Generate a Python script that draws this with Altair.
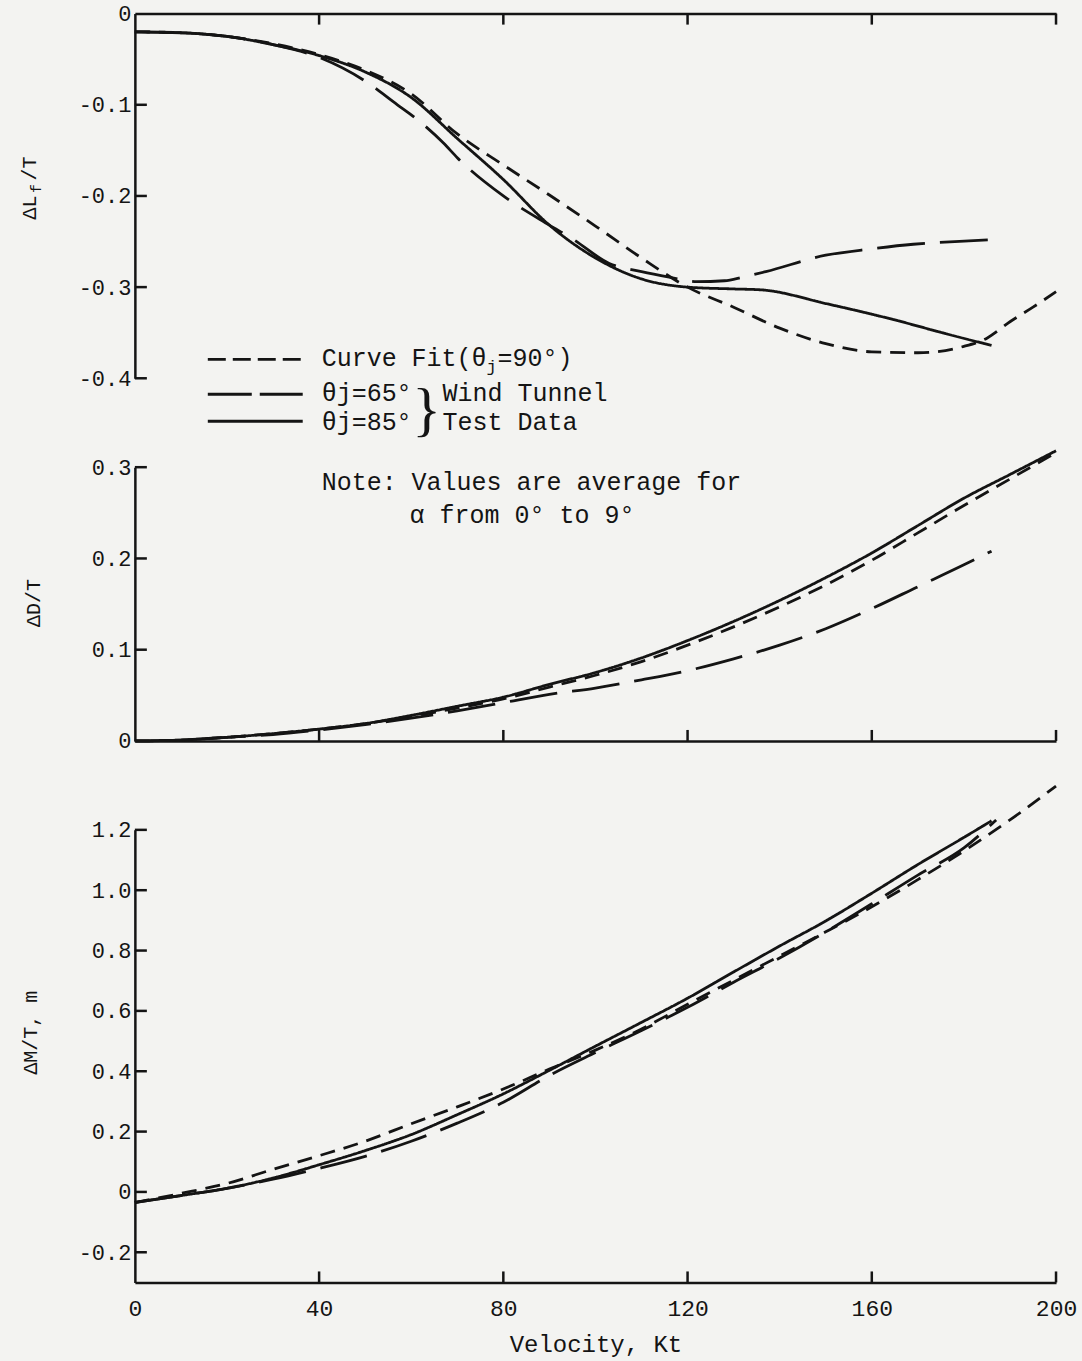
import altair as alt
import pandas as pd

INK = "#141414"
MONO = "Liberation Mono"
BG = "#f3f3f1"

SERIES = ["Curve Fit(θj=90°)", "θj=65°", "θj=85°"]
DASHES = [[15, 9], [48, 15], [1, 0]]

X_TICKS = [40, 80, 120, 160, 200]
X_LABELS = [0, 40, 80, 120, 160, 200]

# ---- Panel 1: ΔLf/T ----
LIFT_FIT_V = [0, 10, 20, 30, 40, 50, 60, 70, 80, 90, 100, 110, 120, 130, 140, 150, 160, 170, 180, 185, 190, 195, 200]
LIFT_FIT = [-0.020, -0.021, -0.025, -0.033, -0.045, -0.062, -0.088, -0.132, -0.166, -0.199, -0.233, -0.268,
            -0.300, -0.322, -0.345, -0.362, -0.371, -0.372, -0.365, -0.356, -0.338, -0.322, -0.305]
LIFT_65_V = [0, 10, 20, 30, 40, 50, 57, 60, 67, 70, 80, 90, 95, 103, 110, 116, 122, 128, 132, 137, 150, 160, 169, 178, 186]
LIFT_65 = [-0.020, -0.021, -0.025, -0.034, -0.048, -0.074, -0.100, -0.111, -0.142, -0.158, -0.200, -0.232, -0.247,
           -0.274, -0.283, -0.289, -0.294, -0.293, -0.289, -0.283, -0.265, -0.258, -0.253, -0.250, -0.248]
LIFT_85_V = [0, 10, 20, 30, 40, 50, 60, 70, 80, 90, 100, 110, 120, 130, 136, 150, 165, 176, 186]
LIFT_85 = [-0.020, -0.021, -0.025, -0.034, -0.046, -0.064, -0.092, -0.137, -0.182, -0.232, -0.268, -0.291,
           -0.300, -0.302, -0.303, -0.318, -0.336, -0.351, -0.364]
LIFT_Y_TICKS = [0, -0.1, -0.2, -0.3, -0.4]

# ---- Panel 2: ΔD/T ----
DRAG_FIT_V = [0, 10, 20, 30, 40, 50, 60, 70, 80, 90, 100, 110, 120, 130, 140, 150, 160, 170, 180, 190, 200]
DRAG_FIT = [0.000, 0.001, 0.004, 0.008, 0.013, 0.019, 0.027, 0.036, 0.046, 0.059, 0.072, 0.087, 0.105, 0.125,
            0.147, 0.171, 0.198, 0.228, 0.258, 0.287, 0.316]
DRAG_85_V = [0, 10, 20, 30, 40, 50, 60, 70, 80, 90, 100, 110, 120, 130, 140, 150, 160, 170, 180, 190, 200]
DRAG_85 = [0.000, 0.001, 0.004, 0.008, 0.013, 0.019, 0.028, 0.038, 0.048, 0.062, 0.075, 0.091, 0.110, 0.131,
           0.154, 0.179, 0.206, 0.236, 0.266, 0.292, 0.318]
DRAG_65_V = [0, 10, 20, 30, 40, 50, 60, 70, 80, 90, 100, 110, 120, 130, 140, 150, 160, 170, 180, 186]
DRAG_65 = [0.000, 0.001, 0.004, 0.007, 0.012, 0.018, 0.025, 0.033, 0.042, 0.051, 0.058, 0.067, 0.077, 0.090,
           0.105, 0.123, 0.145, 0.169, 0.193, 0.208]
DRAG_Y_TICKS = [0, 0.1, 0.2, 0.3]

# ---- Panel 3: ΔM/T ----
MOM_FIT_V = [0, 10, 20, 30, 40, 50, 60, 70, 80, 90, 100, 110, 120, 130, 140, 150, 160, 170, 180, 190, 200]
MOM_FIT = [-0.035, -0.005, 0.028, 0.075, 0.120, 0.168, 0.226, 0.282, 0.341, 0.407, 0.470, 0.540, 0.622, 0.702,
           0.782, 0.862, 0.945, 1.035, 1.130, 1.233, 1.345]
MOM_85_V = [0, 10, 20, 30, 40, 50, 60, 70, 80, 90, 100, 110, 120, 130, 140, 150, 160, 170, 180, 186]
MOM_85 = [-0.035, -0.012, 0.012, 0.046, 0.090, 0.137, 0.190, 0.256, 0.325, 0.403, 0.483, 0.562, 0.642, 0.729,
          0.815, 0.898, 0.990, 1.085, 1.175, 1.230]
MOM_65_V = [0, 10, 20, 30, 40, 50, 60, 70, 80, 90, 100, 110, 120, 130, 140, 150, 160, 170, 180, 187]
MOM_65 = [-0.035, -0.012, 0.012, 0.042, 0.078, 0.118, 0.168, 0.228, 0.297, 0.386, 0.462, 0.535, 0.612, 0.695,
          0.775, 0.862, 0.955, 1.050, 1.140, 1.233]
MOM_Y_TICKS = [-0.2, 0, 0.2, 0.4, 0.6, 0.8, 1.0, 1.2]

# ---- Text ----
Y_TITLE_1 = ["ΔL", "f", "/T"]
Y_TITLE_2 = "ΔD/T"
Y_TITLE_3 = "ΔM/T, m"
X_TITLE = "Velocity, Kt"
LEGEND_ROW1 = ["Curve Fit(θ", "j", "=90°)"]
LEGEND_ROW2 = ["θj=65°", "Wind Tunnel"]
LEGEND_ROW3 = ["θj=85°", "Test Data"]
NOTE = ["Note: Values are average for", "α from 0° to 9°"]

W = 922
H1, H2, H3 = 365, 274, 453

XSCALE = alt.Scale(domain=[0, 200], nice=False, zero=False)
LABEL_EXPR = ("datum.value == 0 ? '0' : (datum.value < 0 ? '-' + format(-datum.value, '.1f') "
              ": format(datum.value, '.1f'))")


def frame(pairs):
    rows = []
    for name, xs, ys in pairs:
        for x, y in zip(xs, ys):
            rows.append({"v": x, "val": y, "series": name})
    return pd.DataFrame(rows)


def text(t, x, y, size=25, align="left", baseline="alphabetic", angle=0, font=MONO):
    return alt.Chart(pd.DataFrame({"t": [t]})).mark_text(
        align=align, baseline=baseline, fontSize=size, font=font, angle=angle, color=INK
    ).encode(x=alt.value(x), y=alt.value(y), text="t:N")


def lines(df, yscale, xaxis, yaxis):
    return alt.Chart(df).mark_line(strokeWidth=2.8, color=INK, interpolate="monotone", strokeCap="butt").encode(
        x=alt.X("v:Q", scale=XSCALE, axis=xaxis),
        y=alt.Y("val:Q", scale=yscale, axis=yaxis),
        strokeDash=alt.StrokeDash("series:N", scale=alt.Scale(domain=SERIES, range=DASHES), legend=None),
        detail="series:N",
    )


def xticks(xaxis, top, height):
    y0, y1 = (0, 11) if top else (height, height - 11)
    return alt.Chart(pd.DataFrame({"v": X_TICKS})).mark_rule(color=INK, strokeWidth=2.5).encode(
        x=alt.X("v:Q", scale=XSCALE, axis=xaxis), y=alt.value(y0), y2=alt.value(y1)
    )


def yticks(vals, yscale, yax):
    return alt.Chart(pd.DataFrame({"val": vals})).mark_rule(color=INK, strokeWidth=2.5).encode(
        y=alt.Y("val:Q", scale=yscale, axis=yax), x=alt.value(0), x2=alt.value(12)
    )


def yaxis(vals):
    return alt.Axis(values=vals, labelExpr=LABEL_EXPR, title=None, labelFontSize=22, labelPadding=4,
                    labelFlush=False, labelOverlap=False, ticks=False, domain=True)


# Panel 1
ys1 = alt.Scale(domain=[-0.4, 0], nice=False, zero=False)
xa1 = alt.Axis(orient="top", labels=False, ticks=False, title=None, domain=True)
ya1 = yaxis(LIFT_Y_TICKS)
df1 = frame([(SERIES[0], LIFT_FIT_V, LIFT_FIT), (SERIES[1], LIFT_65_V, LIFT_65), (SERIES[2], LIFT_85_V, LIFT_85)])
p1_layers = [
    lines(df1, ys1, xa1, ya1),
    xticks(xa1, True, H1),
    yticks([-0.1, -0.2, -0.3, -0.4], ys1, ya1),
    text(Y_TITLE_1[0], -105, 194, size=20, align="center", baseline="middle", angle=270),
    text(Y_TITLE_1[1], -99, 175, size=15, align="center", baseline="middle", angle=270),
    text(Y_TITLE_1[2], -105, 155, size=20, align="center", baseline="middle", angle=270),
    # legend
    alt.Chart(pd.DataFrame({"a": [0]})).mark_rule(color=INK, strokeWidth=2.8, strokeDash=[18, 7], strokeCap="butt").encode(
        x=alt.value(73), x2=alt.value(168), y=alt.value(346)),
    alt.Chart(pd.DataFrame({"a": [0]})).mark_rule(color=INK, strokeWidth=2.8, strokeDash=[44, 8], strokeCap="butt").encode(
        x=alt.value(73), x2=alt.value(168), y=alt.value(381)),
    alt.Chart(pd.DataFrame({"a": [0]})).mark_rule(color=INK, strokeWidth=2.8, strokeCap="butt").encode(
        x=alt.value(73), x2=alt.value(168), y=alt.value(408)),
    text(LEGEND_ROW1[0], 187, 353),
    text(LEGEND_ROW1[1], 352, 359, size=17),
    text(LEGEND_ROW1[2], 363, 353),
    text(LEGEND_ROW2[0], 187, 388),
    text(LEGEND_ROW2[1], 308, 388),
    text(LEGEND_ROW3[0], 187, 417),
    text(LEGEND_ROW3[1], 308, 417),
    text("}", 292, 398, size=60, align="center", baseline="middle", font="Liberation Serif"),
    text(NOTE[0], 187, 477),
    text(NOTE[1], 275, 510),
]
p1 = alt.layer(*p1_layers).properties(width=W, height=H1)

# Panel 2
ys2 = alt.Scale(domain=[0, 0.3], nice=False, zero=False)
xa2 = alt.Axis(orient="bottom", labels=False, ticks=False, title=None, domain=True)
ya2 = yaxis(DRAG_Y_TICKS)
df2 = frame([(SERIES[0], DRAG_FIT_V, DRAG_FIT), (SERIES[1], DRAG_65_V, DRAG_65), (SERIES[2], DRAG_85_V, DRAG_85)])
p2 = alt.layer(
    lines(df2, ys2, xa2, ya2),
    xticks(xa2, False, H2),
    yticks([0.1, 0.2, 0.3], ys2, ya2),
    text(Y_TITLE_2, -101, 136, size=20, align="center", baseline="middle", angle=270),
).properties(width=W, height=H2)

# Panel 3
ys3 = alt.Scale(domain=[-0.3, 1.2], nice=False, zero=False)
xa3 = alt.Axis(orient="bottom", values=X_LABELS, ticks=False, title=X_TITLE, labelFontSize=23, labelPadding=15,
               labelFlush=False, labelOverlap=False, titleFont=MONO, titleFontSize=24, titleFontWeight="normal",
               titleColor=INK, titlePadding=12, domain=True)
ya3 = yaxis(MOM_Y_TICKS)
df3 = frame([(SERIES[0], MOM_FIT_V, MOM_FIT), (SERIES[1], MOM_65_V, MOM_65), (SERIES[2], MOM_85_V, MOM_85)])
p3 = alt.layer(
    lines(df3, ys3, xa3, ya3),
    xticks(xa3, False, H3),
    yticks(MOM_Y_TICKS, ys3, ya3),
    text(Y_TITLE_3, -104, 203, size=20, align="center", baseline="middle", angle=270),
).properties(width=W, height=H3)

chart = alt.vconcat(p1, p2, p3, spacing=89, bounds="flush").properties(
    padding={"left": 20, "top": 2, "right": 5, "bottom": 5}, background=BG
).configure_view(stroke=None).configure_axis(
    domainColor=INK, domainWidth=2.5, grid=False, labelFont=MONO, labelColor=INK
)

chart.save("out.html", embed_options={"renderer": "svg", "actions": False})
